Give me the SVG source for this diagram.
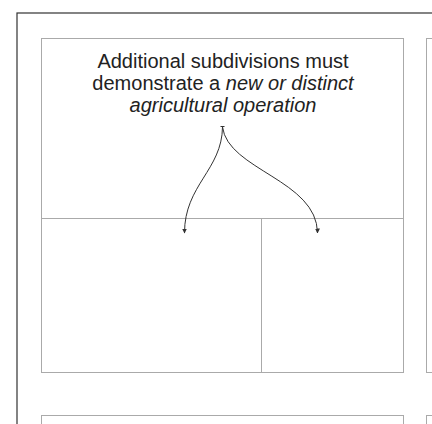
<svg xmlns="http://www.w3.org/2000/svg" width="432" height="424" viewBox="0 0 432 424">
<defs>
<style>
.frame{fill:none;stroke:#333;stroke-width:1.2}
.box{fill:#fff;stroke:#aaa;stroke-width:1}
.div{fill:none;stroke:#aaa;stroke-width:1}
.conn{fill:none;stroke:#333;stroke-width:1}
.t{font-family:"Liberation Sans",Arial,sans-serif;font-size:20px;fill:#222;text-anchor:middle}
.i{font-style:italic}
</style>
<marker id="ah" viewBox="0 0 10 10" refX="9" refY="5" markerWidth="5" markerHeight="5" orient="auto" markerUnits="userSpaceOnUse">
<path d="M0,0 L10,5 L0,10 z" fill="#333"/>
</marker>
</defs>
<rect width="432" height="424" fill="#fff"/>
<rect class="frame" x="17" y="13" width="440" height="440"/>
<g id="panel-main">
<rect class="box" x="41.5" y="38.5" width="362" height="334"/>
<line class="div" x1="41.5" y1="218.5" x2="403.5" y2="218.5"/>
<line class="div" x1="261.5" y1="218.5" x2="261.5" y2="372.5"/>
<text class="t" x="223" y="68">Additional subdivisions must</text>
<text class="t" x="223" y="90">demonstrate a <tspan class="i">new or distinct</tspan></text>
<text class="t i" x="223" y="112">agricultural operation</text>
</g>
<g id="panel-right">
<rect class="box" x="426.5" y="38.5" width="40" height="334"/>
</g>
<g id="panel-bottom-left">
<rect class="box" x="41.5" y="415.5" width="362" height="40"/>
</g>
<g id="panel-bottom-right">
<rect class="box" x="426.5" y="415.5" width="40" height="40"/>
</g>
<g id="connectors">
<line class="conn" x1="220.5" y1="126.5" x2="224.5" y2="126.5"/>
<path class="conn" d="M222.5,127 C222,170 184.5,185 184.5,233" marker-end="url(#ah)"/>
<path class="conn" d="M222.5,127 C228,170 317,180 317.5,233" marker-end="url(#ah)"/>
</g>
</svg>
